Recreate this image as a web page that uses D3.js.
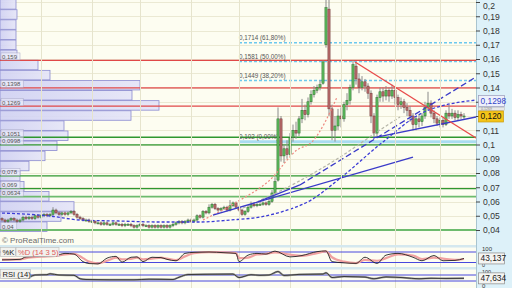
<!DOCTYPE html>
<html><head><meta charset="utf-8">
<script src="https://cdn.jsdelivr.net/npm/d3@7"></script>
<style>body{margin:0;background:#fff}svg{display:block;font-family:"Liberation Sans",Arial,sans-serif}</style>
</head><body><svg id="c" width="512" height="288"></svg>
<script>
// ---------- DATA ----------
const open=[.048,.047,.046,.047,.048,.047,.046,.047,.049,.048,
.049,.048,.050,.049,.050,.051,.050,.051,.054,.052,
.051,.052,.051,.052,.053,.051,.049,.048,.047,.047,
.046,.046,.045,.045,.044,.045,.044,.044,.045,.044,
.044,.043,.044,.044,.043,.042,.043,.044,.043,.043,
.042,.043,.042,.043,.042,.043,.042,.043,.044,.045,
.046,.045,.046,.047,.046,.047,.050,.049,.053,.052,
.056,.058,.055,.054,.055,.056,.054,.057,.059,.056,
.054,.051,.053,.056,.058,.057,.058,.058,.059,.058,
.060,.066,.075,.118,.092,.097,.093,.105,.110,.108,
.118,.124,.121,.130,.135,.138,.140,.143,.170,.195,
.125,.110,.113,.120,.118,.128,.131,.140,.155,.146,
.140,.144,.141,.136,.120,.108,.133,.137,.134,.138,
.134,.138,.133,.128,.130,.126,.124,.120,.114,.118,
.116,.120,.126,.129,.122,.118,.115,.117,.114,.122,
.120,.122,.119,.121,.120];
const high=[.049,.048,.048,.049,.049,.048,.048,.050,.050,.050,
.050,.051,.051,.051,.052,.052,.052,.056,.055,.053,
.053,.053,.053,.054,.054,.052,.050,.049,.048,.048,
.047,.047,.046,.046,.046,.046,.045,.046,.046,.045,
.045,.045,.045,.045,.044,.044,.045,.045,.044,.044,
.044,.044,.044,.044,.044,.044,.044,.045,.046,.047,
.047,.047,.048,.048,.048,.051,.051,.054,.054,.058,
.059,.059,.056,.056,.057,.057,.061,.060,.060,.057,
.055,.054,.057,.060,.059,.059,.060,.060,.060,.063,
.068,.077,.126,.120,.100,.103,.108,.114,.116,.120,
.132,.128,.133,.138,.141,.142,.145,.159,.205,.210,
.128,.120,.125,.126,.130,.136,.142,.159,.158,.150,
.148,.146,.143,.138,.122,.135,.140,.140,.141,.140,
.142,.140,.135,.133,.132,.129,.127,.122,.120,.121,
.122,.130,.137,.131,.124,.120,.119,.119,.124,.128,
.125,.124,.124,.123,.122];
const low=[.046,.045,.045,.046,.046,.045,.045,.046,.047,.047,
.047,.047,.048,.048,.049,.049,.049,.050,.051,.050,
.050,.050,.050,.051,.050,.048,.047,.046,.046,.045,
.045,.044,.044,.043,.043,.043,.043,.043,.043,.043,
.042,.042,.043,.042,.041,.041,.042,.042,.042,.041,
.041,.041,.041,.041,.041,.041,.041,.042,.043,.044,
.044,.044,.045,.045,.045,.046,.048,.048,.051,.051,
.055,.054,.053,.053,.054,.053,.053,.056,.055,.053,
.050,.050,.052,.055,.056,.056,.057,.057,.057,.057,
.059,.065,.074,.088,.087,.090,.092,.102,.104,.106,
.115,.117,.119,.128,.133,.136,.138,.142,.168,.120,
.103,.102,.110,.112,.116,.124,.128,.138,.142,.136,
.138,.137,.132,.115,.104,.106,.130,.130,.131,.130,
.132,.128,.124,.125,.122,.120,.116,.110,.110,.112,
.113,.118,.124,.119,.115,.113,.112,.112,.113,.118,
.118,.117,.117,.118,.118];
const close=[.047,.046,.047,.048,.047,.046,.047,.049,.048,.049,
.048,.050,.049,.050,.051,.050,.051,.054,.052,.051,
.052,.051,.052,.053,.051,.049,.048,.047,.047,.046,
.046,.045,.045,.044,.045,.044,.044,.045,.044,.044,
.043,.044,.044,.043,.042,.043,.044,.043,.043,.042,
.043,.042,.043,.042,.043,.042,.043,.044,.045,.046,
.045,.046,.047,.046,.047,.050,.049,.053,.052,.056,
.058,.055,.054,.055,.056,.054,.057,.059,.056,.054,
.051,.053,.056,.058,.057,.058,.058,.059,.058,.060,
.066,.074,.118,.092,.097,.093,.105,.110,.108,.118,
.124,.121,.130,.135,.138,.140,.142,.158,.196,.125,
.110,.113,.120,.118,.128,.131,.140,.156,.146,.140,
.144,.141,.136,.120,.108,.133,.137,.134,.138,.134,
.138,.133,.128,.130,.126,.124,.120,.114,.118,.116,
.120,.126,.129,.122,.118,.115,.117,.114,.122,.120,
.122,.119,.121,.120,.120];

const yTicks=[0.04,0.05,0.06,0.07,0.08,0.09,0.1,0.11,0.12,0.13,0.14,0.15,0.16,0.17,0.18,0.19,0.2];
const hiddenTickLabels=[0.12,0.13]; // covered by the price boxes in the reference
const gridIdx=[13,30,46,63,79,96,113,131,146];

// volume-by-price profile (bottom bin upward)
const profileBase=0.0386, profileStep=0.00709;
const profileVol=[47,61,74,49,24,20,29,45,57,68,64,131,159,132,140,50,38,17,16,16,16,17,16];

const redLevels=[0.159,0.1398,0.1269];
const greenLevels=[0.1051,0.0998,0.078,0.069,0.0634,0.04];
const profileLabels=[0.159,0.1398,0.1269,0.1051,0.0998,0.078,0.069,0.0634,0.04];

const fibLevels=[0.1714,0.1581,0.1449,0.102];
const fibPct=["61,80%","50,00%","38,20%","0,00%"];
const fibStart=79;

// trendlines / averages : [index, price]
const redDown=[[117.7,0.1579],[158,0.1046]];
const blueSolidA=[[70.3,0.0505],[137,0.0912]];
const blueSolidB=[[85.3,0.0597],[99.3,0.0716]];
const blueLongDash=[[99.3,0.0716],[158,0.1474]];
const blueSolidC=[[123.7,0.1046],[158,0.1193]];
const blueMA=[[0,0.0519],[16,0.0498],[26,0.0470],[39,0.0463],[53,0.0456],[66,0.0456],[76,0.0470],[86,0.0491],[93,0.0526],[103,0.0610],[112,0.0751],[127,0.1018],[140,0.1221],[158,0.1312]];
const grayMA=[[80.3,0.0554],[96,0.0709],[112.7,0.0912],[126,0.1102],[132.7,0.1193]];
const redMA=[[67,0.0470],[78.3,0.0597],[89.3,0.0751],[98.3,0.0961],[103.3,0.1018],[111.7,0.1333]];

// stochastic
const stochIdx=[0,6,8,13,18,21,24,27,29,32,35,38,40,43,45,47,50,53,55,58,61,64,69,74,78,79,82,85,88,91,96,100,105,108,110,114,118,121,125,128,132,137,140,144,147,151,154];
const stochK=[35,38,52,55,60,72,68,25,14,12,45,55,22,50,52,25,50,48,38,30,72,78,80,76,72,25,62,72,68,85,52,60,82,86,25,18,15,50,15,62,72,50,30,60,30,32,43.137];
const stochD=[36,37,45,53,58,66,70,45,25,15,30,48,38,40,48,38,42,48,42,34,55,74,79,78,74,45,48,66,70,78,65,58,74,84,50,25,17,35,30,45,66,60,40,48,42,35,40];
// RSI
const rsiIdx=[0,4,8,11,15,16,19,24,26,28,36,44,49,57,59,62,69,77,79,83,86,89,92,94,99,107,108,110,114,118,121,124,128,134,139,143,148,154];
const rsiVal=[55,52,50,70,72,78,70,68,45,40,38,38,42,40,55,73,75,76,53,72,68,70,93,67,74,76,85,53,60,58,56,45,57,52,45,48,47,47.634];
const lastPrice=0.120, lastMark=0.1298, markSmall=0.1269;

// ---------- DRAW ----------
const svg=d3.select("#c");
const PR=476;
const x=d3.scaleLinear().domain([0,158]).range([2,PR]);
const y=d3.scaleLinear().domain([0.04,0.2]).range([230,2]);
const ys=d3.scaleLinear().domain([0,100]).range([266,248.5]);
const yr=d3.scaleLinear().domain([0,100]).range([285.5,270.5]);
const vx=d3.scaleLinear().domain([0,160]).range([0,160]);
const fmt=v=>String(v).replace(".",",");

svg.append("rect").attr("width",512).attr("height",288).attr("fill","#fdfdf1");
const defs=svg.append("defs");
defs.append("clipPath").attr("id","mainclip").append("rect").attr("width",PR).attr("height",245);
const g=defs.append("linearGradient").attr("id","pg");
g.append("stop").attr("offset","0").attr("stop-color","#cfd0f3");
g.append("stop").attr("offset","1").attr("stop-color","#e4e4f8");

const main=svg.append("g").attr("clip-path","url(#mainclip)");
// grid
main.selectAll(".hg").data(yTicks).join("line").attr("x1",0).attr("x2",PR)
 .attr("y1",d=>Math.round(y(d))+.5).attr("y2",d=>Math.round(y(d))+.5).attr("stroke","#ebe9d3");
svg.selectAll(".vg").data(gridIdx).join("line").attr("x1",d=>Math.round(x(d))+.5).attr("x2",d=>Math.round(x(d))+.5)
 .attr("y1",0).attr("y2",288).attr("stroke","#e6e4cd");

// profile
main.selectAll(".pb").data(profileVol).join("rect")
 .attr("x",0).attr("width",d=>vx(d))
 .attr("y",(d,i)=>y(profileBase+(i+1)*profileStep))
 .attr("height",(d,i)=>y(profileBase+i*profileStep)-y(profileBase+(i+1)*profileStep)-0.6)
 .attr("fill","url(#pg)").attr("fill-opacity",0.9).attr("stroke","#8b8bd0").attr("stroke-width",0.8);

// level lines
main.selectAll(".rl").data(redLevels).join("line").attr("x1",0).attr("x2",PR)
 .attr("y1",d=>y(d)).attr("y2",d=>y(d)).attr("stroke","#e04848").attr("stroke-width",1.3);
main.selectAll(".gl").data(greenLevels).join("line").attr("x1",0).attr("x2",PR)
 .attr("y1",d=>y(d)).attr("y2",d=>y(d)).attr("stroke",(d,i)=>i>=4?"#6dbb6d":"#2f972f").attr("stroke-width",(d,i)=>i>=4?1.8:1.3);

// profile labels
const pl=main.selectAll(".plab").data(profileLabels).join("g").attr("transform",d=>`translate(2,${y(d)-1.5})`);
pl.append("rect").attr("x",-1).attr("y",-6).attr("height",7).attr("width",d=>fmt(d).length*3.2+3)
 .attr("fill","#eeeef9").attr("fill-opacity",0.7).attr("stroke","#a8a8c8").attr("stroke-width",0.5);
pl.append("text").text(d=>fmt(d)).attr("font-size",6).attr("fill","#555");

// fibonacci
main.selectAll(".fl").data(fibLevels).join("line").attr("x1",x(fibStart)).attr("x2",PR)
 .attr("y1",d=>y(d)).attr("y2",d=>y(d))
 .attr("stroke",(d,i)=>i==3?"#a9dcf0":"#6cc8ee").attr("stroke-width",(d,i)=>i==3?3:1.3)
 .attr("stroke-dasharray",(d,i)=>i==3?null:"3,2");
main.selectAll(".ft").data(fibLevels).join("text").attr("x",x(fibStart)).attr("y",d=>y(d)-2.5)
 .text((d,i)=>`${fmt(d)} (${fibPct[i]})`).attr("font-size",6.3).attr("fill","#555");

// candles
const idx=d3.range(close.length);
main.selectAll(".wk").data(idx).join("line").attr("x1",i=>x(i)).attr("x2",i=>x(i))
 .attr("y1",i=>y(high[i])).attr("y2",i=>y(low[i])).attr("stroke","#8a8a8a").attr("stroke-width",1);
main.selectAll(".bd").data(idx).join("rect")
 .attr("x",i=>x(i)-1.1).attr("width",2.2)
 .attr("y",i=>y(Math.max(open[i],close[i])))
 .attr("height",i=>Math.max(1,Math.abs(y(open[i])-y(close[i]))))
 .attr("fill",i=>close[i]>=open[i]?"#5cba5c":"#b96c6c")
 .attr("stroke",i=>close[i]>=open[i]?"#2e6b2e":"#6e3535").attr("stroke-width",0.5);

// trendlines
const ln=d3.line().x(d=>x(d[0])).y(d=>y(d[1]));
const lc=d3.line().x(d=>x(d[0])).y(d=>y(d[1])).curve(d3.curveMonotoneX);
function path(data,stroke,w,dash,gen){main.append("path").attr("d",(gen||ln)(data)).attr("fill","none")
 .attr("stroke",stroke).attr("stroke-width",w).attr("stroke-dasharray",dash);}
path(redMA,"#ee8a80",1.2,"2,2",lc);
path(grayMA,"#b5b5a8",1.2,"3,2",lc);
path(blueMA,"#3b3bd6",1.3,"3,2",lc);
path(blueSolidA,"#3a3ac8",1.3,null);
path(blueSolidB,"#3a3ac8",1.3,null);
path(blueLongDash,"#3a3ac8",1.3,"6,3");
path(blueSolidC,"#3a3ac8",1.3,null);
path(redDown,"#e84a4a",1.3,null);

svg.append("text").attr("x",2).attr("y",243).text("© ProRealTime.com").attr("font-size",8).attr("fill","#6a6a6a");

// separators
svg.append("rect").attr("x",0).attr("y",245).attr("width",PR).attr("height",2.5).attr("fill","#d4e8ef");
svg.append("rect").attr("x",0).attr("y",267).attr("width",PR).attr("height",2.5).attr("fill","#d4e8ef");

// stoch panel
[80,20].forEach(v=>svg.append("line").attr("x1",0).attr("x2",PR).attr("y1",ys(v)).attr("y2",ys(v)).attr("stroke","#4848dd").attr("stroke-width",1));
const sD=stochIdx.map((d,i)=>[d,stochD[i]]), sK=stochIdx.map((d,i)=>[d,stochK[i]]);
const ls=d3.line().x(d=>x(d[0])).y(d=>ys(d[1])).curve(d3.curveMonotoneX);
svg.append("path").attr("d",ls(sD)).attr("fill","none").attr("stroke","#f0a0a0").attr("stroke-width",2.2);
svg.append("path").attr("d",ls(sK)).attr("fill","none").attr("stroke","#222").attr("stroke-width",0.9);
// rsi panel
[70,30].forEach(v=>svg.append("line").attr("x1",0).attr("x2",PR).attr("y1",yr(v)).attr("y2",yr(v)).attr("stroke","#4848dd").attr("stroke-width",1));
const rP=rsiIdx.map((d,i)=>[d,rsiVal[i]]);
const lr=d3.line().x(d=>x(d[0])).y(d=>yr(d[1])).curve(d3.curveMonotoneX);
svg.append("path").attr("d",lr(rP)).attr("fill","none").attr("stroke","#999").attr("stroke-width",2);
svg.append("path").attr("d",lr(rP)).attr("fill","none").attr("stroke","#222").attr("stroke-width",0.8);

// panel labels
function lab(xp,yp,w,parts){const gg=svg.append("g").attr("transform",`translate(${xp},${yp})`);
 gg.append("rect").attr("width",w).attr("height",9).attr("fill","#f2f2ee").attr("stroke","#b8b8b8").attr("stroke-width",0.6);
 const t=gg.append("text").attr("x",2).attr("y",7.3).attr("font-size",7.6);
 parts.forEach(p=>t.append("tspan").text(p[0]).attr("fill",p[1]));}
lab(0.5,247.5,15,[["%K","#222"]]);
svg.append("rect").attr("x",16).attr("y",247.5).attr("width",43).attr("height",9).attr("fill","#f2f2ee").attr("stroke","#b8b8b8").attr("stroke-width",0.6);
svg.append("text").attr("x",18).attr("y",254.8).attr("font-size",7.6).attr("fill","#e05a5a").text("%D (14 3 5)");
lab(0.5,269.5,30,[["RSI (14)","#222"]]);

// right axis strip
svg.append("rect").attr("x",PR).attr("y",0).attr("width",512-PR).attr("height",288).attr("fill","#ddf1f9");
svg.append("line").attr("x1",PR+.5).attr("x2",PR+.5).attr("y1",0).attr("y2",288).attr("stroke","#a9c4cf");
const ax=svg.append("g").attr("transform",`translate(${PR},0)`)
 .call(d3.axisRight(y).tickValues(yTicks).tickSize(4).tickPadding(3)
 .tickFormat(d=>hiddenTickLabels.includes(d)?"":fmt(+d.toFixed(2))));
ax.select(".domain").remove();
ax.selectAll("line").attr("stroke","#444");
ax.selectAll("text").attr("font-size",8.6).attr("fill","#333").attr("font-family","Liberation Sans, Arial, sans-serif");
ax.selectAll("text").filter(d=>d===0.2).attr("dy","0.75em");

// small axis labels lower panels
svg.append("text").attr("x",482).attr("y",ys(100)+2.5).attr("font-size",6).attr("fill","#333").text("100");
svg.append("text").attr("x",482).attr("y",ys(0)+1.2).attr("font-size",5.5).attr("fill","#333").text("0");
svg.append("text").attr("x",482).attr("y",yr(100)+3.2).attr("font-size",5.5).attr("fill","#333").text("100");
svg.append("text").attr("x",482).attr("y",yr(0)+2.2).attr("font-size",6).attr("fill","#333").text("0");

function box(yc,txt,fill,stroke,tcol,w){const gg=svg.append("g").attr("transform",`translate(478.5,${yc-5.5})`);
 gg.append("rect").attr("width",w||26).attr("height",11).attr("fill",fill).attr("stroke",stroke).attr("stroke-width",0.7);
 gg.append("text").attr("x",2).attr("y",8.3).attr("font-size",8.4).attr("fill",tcol).text(txt);}
box(ys(stochK[stochK.length-1]),fmt(stochK[stochK.length-1]),"#f4f4f2","#8a8a8a","#222");
box(yr(rsiVal[rsiVal.length-1]),fmt(rsiVal[rsiVal.length-1]),"#f4f4f2","#8a8a8a","#222");
box(y(lastMark)-1,fmt(lastMark),"#eef0fb","#9a9ab8","#3446c8");
svg.append("rect").attr("x",478.5).attr("y",y(markSmall)+1.2).attr("width",26).attr("height",3.4).attr("fill","#e8e8e8").attr("stroke","#aaa").attr("stroke-width",0.4);
svg.append("text").attr("x",481).attr("y",y(markSmall)+4.2).attr("font-size",3.6).attr("fill","#888").text(fmt(markSmall));
box(y(lastPrice)+0.5,fmt(lastPrice.toFixed(3)),"#f4c419","#c89a10","#111",25);
</script></body></html>
